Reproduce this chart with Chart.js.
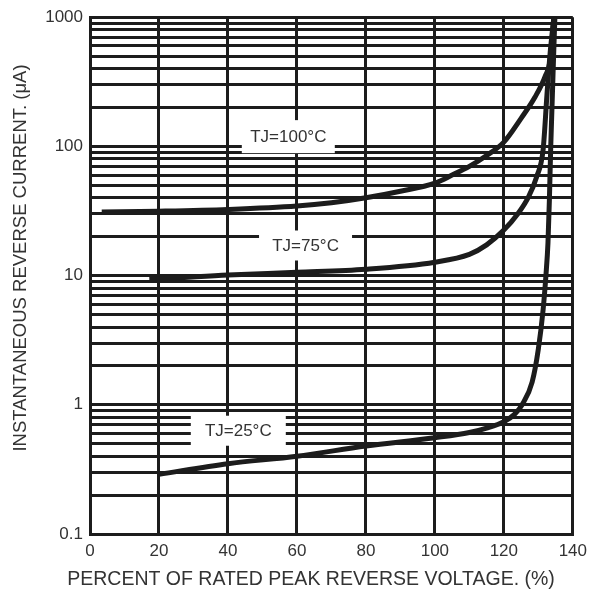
<!DOCTYPE html>
<html>
<head>
<meta charset="utf-8">
<script src="https://cdn.jsdelivr.net/npm/chart.js@4"></script>
<style>
  html, body { margin: 0; padding: 0; background: #fff; }
</style>
</head>
<body>
<canvas id="currentChart" width="594" height="591"></canvas>
<script>
// values (percent of rated voltage -> uA)
const xTj100 = [3.4, 20, 40, 60, 70, 80, 90, 100, 105, 110, 115, 120, 125, 129, 132, 133.5, 134.5];
const yTj100 = [31, 31.5, 32.5, 34.5, 36.6, 40, 45, 52, 60, 70, 85, 108, 165, 240, 350, 480, 1000];

const xTj75 = [17.2, 20, 40, 60, 80, 100, 110, 115, 120, 124, 127, 129.5, 131.4, 132.5, 133.4, 134.5];
const yTj75 = [9.4, 9.45, 10.1, 10.6, 11.2, 12.7, 14.6, 17.3, 22.5, 30, 40, 58, 95, 250, 520, 1000];

const xTj25 = [20, 40, 60, 80, 100, 110, 115, 120, 123, 125.3, 128.2, 130, 131.4, 132.2, 132.8, 133.2, 133.6, 134.8];
const yTj25 = [0.29, 0.35, 0.4, 0.48, 0.556, 0.61, 0.66, 0.74, 0.84, 1.0, 1.5, 2.7, 5.5, 10, 18, 38, 100, 1000];

const yTickLabels = [0.1, 1, 10, 100, 1000];
const curveNames = ['TJ=100°C', 'TJ=75°C', 'TJ=25°C'];
const xTitle = 'PERCENT OF RATED PEAK REVERSE VOLTAGE. (%)';
const yTitle = 'INSTANTANEOUS REVERSE CURRENT. (μA)';

const ink = '#1c1c1c';
const textGrey = '#333';
const fontFamily = '"Liberation Sans", Arial, sans-serif';

function toPoints(xs, ys) {
    return xs.map((x, i) => ({ x: x, y: ys[i] }));
}

// white patches that hide the grid behind the curve names
const labelSpots = [
    { x: 57.5, y: 119, w: 93, h: 33 },
    { x: 62.5, y: 17.1, w: 93, h: 30 },
    { x: 43, y: 0.63, w: 95, h: 30 }
];

const curveLabels = {
    id: 'curveLabels',
    afterDatasetsDraw(chart) {
        const { ctx, scales: { x, y } } = chart;
        ctx.save();
        curveNames.forEach((name, i) => {
            const spot = labelSpots[i];
            const cx = x.getPixelForValue(spot.x);
            const cy = y.getPixelForValue(spot.y);
            ctx.fillStyle = '#fff';
            ctx.fillRect(cx - spot.w / 2, cy - spot.h / 2, spot.w, spot.h);
            ctx.fillStyle = textGrey;
            ctx.font = '17px ' + fontFamily;
            ctx.textAlign = 'center';
            ctx.textBaseline = 'middle';
            ctx.fillText(name, cx, cy + 1);
        });
        ctx.restore();
    }
};

// axis titles sit a bit off-centre in the original, so place them by hand
const axisTitles = {
    id: 'axisTitles',
    afterDraw(chart) {
        const { ctx } = chart;
        ctx.save();
        ctx.fillStyle = textGrey;
        ctx.textAlign = 'center';
        ctx.textBaseline = 'middle';
        ctx.font = '19.5px ' + fontFamily;
        ctx.fillText(xTitle, 311, 580);
        ctx.translate(21, 258);
        ctx.rotate(-Math.PI / 2);
        ctx.font = '18.5px ' + fontFamily;
        ctx.fillText(yTitle, 0, 0);
        ctx.restore();
    }
};

const lineStyle = {
    borderColor: ink,
    borderWidth: 5,
    pointRadius: 0,
    fill: false,
    cubicInterpolationMode: 'monotone'
};

const ctx = document.getElementById('currentChart').getContext('2d');

const currentChart = new Chart(ctx, {
    type: 'line',
    data: {
        datasets: [
            { label: curveNames[0], data: toPoints(xTj100, yTj100), ...lineStyle },
            { label: curveNames[1], data: toPoints(xTj75, yTj75), ...lineStyle },
            { label: curveNames[2], data: toPoints(xTj25, yTj25), ...lineStyle }
        ]
    },
    options: {
        responsive: false,
        animation: false,
        devicePixelRatio: 1,
        layout: {
            padding: { top: 13, right: 16, left: 0, bottom: 0 }
        },
        plugins: {
            legend: { display: false },
            tooltip: { enabled: false }
        },
        scales: {
            x: {
                type: 'linear',
                min: 0,
                max: 140,
                ticks: {
                    stepSize: 20,
                    autoSkip: false,
                    maxRotation: 0,
                    padding: 7,
                    color: textGrey,
                    font: { family: fontFamily, size: 17 }
                },
                grid: {
                    color: ink,
                    lineWidth: 3,
                    drawTicks: false
                },
                border: { color: ink, width: 3 },
                afterFit(scale) {
                    scale.height = 57;
                }
            },
            y: {
                type: 'logarithmic',
                min: 0.1,
                max: 1000,
                afterBuildTicks(scale) {
                    // grid at 1..9 of every decade
                    const ticks = [];
                    for (let e = -1; e < 3; e++) {
                        for (let m = 1; m < 10; m++) {
                            ticks.push({ value: +(m * Math.pow(10, e)).toFixed(6) });
                        }
                    }
                    ticks.push({ value: 1000 });
                    scale.ticks = ticks;
                },
                ticks: {
                    autoSkip: false,
                    padding: 7,
                    color: textGrey,
                    font: { family: fontFamily, size: 17 },
                    callback: (v) => yTickLabels.includes(v) ? String(v) : ''
                },
                grid: {
                    color: ink,
                    lineWidth: 3,
                    drawTicks: false
                },
                border: { color: ink, width: 3 },
                afterFit(scale) {
                    scale.width = 90;
                }
            }
        }
    },
    plugins: [curveLabels, axisTitles]
});
</script>
</body>
</html>
